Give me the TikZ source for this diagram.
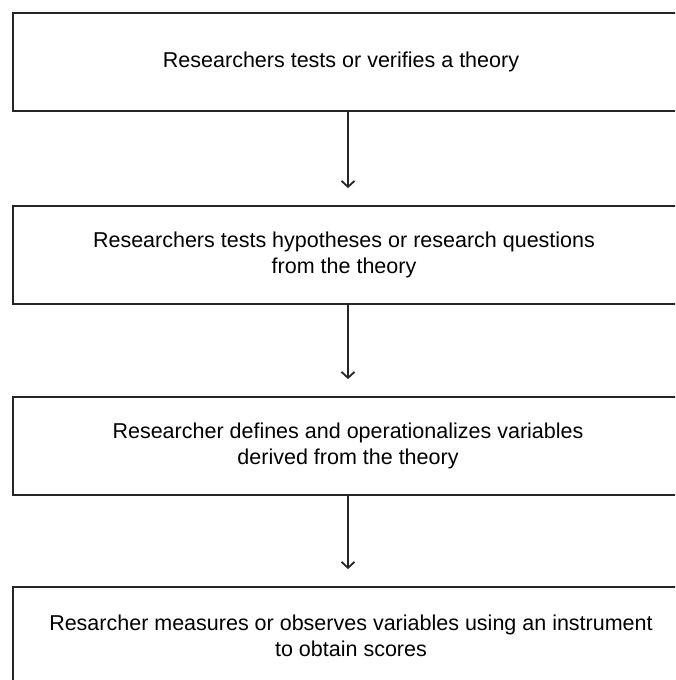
\documentclass[tikz,border=0pt]{standalone}
\usepackage{fontspec}
\setmainfont{Liberation Sans}
\usetikzlibrary{arrows.meta}
\begin{document}
\begin{tikzpicture}[x=1pt,y=-1pt,
  stepbox/.style={draw=black!85,line width=1.8pt,rectangle,minimum width=670pt,minimum height=98pt,inner sep=0pt,align=center,font=\fontsize{21.5}{26}\selectfont},
  steptext/.style={font=\fontsize{21.5}{26}\selectfont,align=center},
  flow/.style={draw=black!85,line width=1.8pt,-{Straight Barb[length=6pt,width=13pt,line width=1.8pt]},shorten >=17pt}]
\useasboundingbox (0,0) rectangle (675,680);
\clip (0,0) rectangle (675,680);
\fill[white] (0,0) rectangle (675,680);
\node[stepbox] (b1) at (348,62) {};
\node[stepbox] (b2) at (348,255) {};
\node[stepbox] (b3) at (348,446) {};
\node[stepbox] (b4) at (348,636) {};
\node[steptext] (t1) at (341,62) {Researchers tests or verifies a theory};
\node[steptext] (t2) at (344,255) {Researchers tests hypotheses or research questions\\from the theory};
\node[steptext] (t3) at (348,446) {Researcher defines and operationalizes variables\\derived from the theory};
\node[steptext] (t4) at (351,636) {Resarcher measures or observes variables using an instrument\\to obtain scores};
\draw[flow] (b1) -- (b2);
\draw[flow] (b2) -- (b3);
\draw[flow] (b3) -- (b4);
\end{tikzpicture}
\end{document}
